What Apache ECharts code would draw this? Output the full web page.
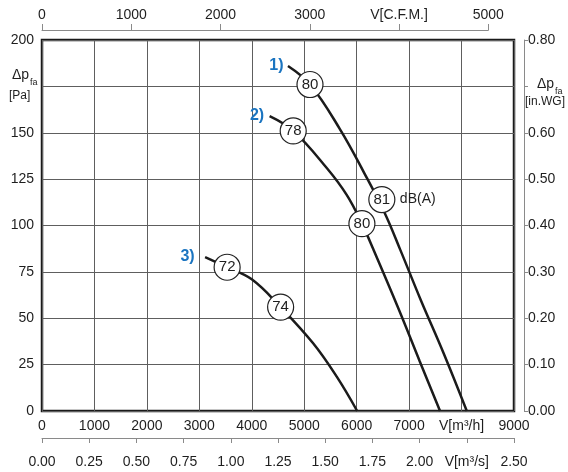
<!DOCTYPE html>
<html>
<head>
<meta charset="utf-8">
<script src="https://cdn.jsdelivr.net/npm/echarts@6/dist/echarts.min.js"></script>
<style>
html,body{margin:0;padding:0;background:#fff;}
#chart{width:568px;height:472px;}
</style>
</head>
<body>
<div id="chart"></div>
<script>
// ---- data ----
var flowTicksM3h = [0,1000,2000,3000,4000,5000,6000,7000,8000,9000];
var pressureTicksPa = [0,25,50,75,100,125,150,175,200];
var curve1Flow = [4690,5110,5680,6150,6530,6830,7220,7660,8100];
var curve1Pa   = [186,176,152,128,107,87,60,31,0];
var curve2Flow = [4340,4790,5430,5810,6100,6320,6800,7200,7590];
var curve2Pa   = [159,151,131,116.5,101,87,55,27,0];
var curve3Flow = [3110,3530,4000,4550,5170,5620,6010];
var curve3Pa   = [83,77.5,71,56,36.5,18.5,0];
var curveNames = ['1)','2)','3)'];
var soundFlow  = [5110,6480,4790,6100,3530,4550];
var soundPa    = [176,114,151,101,77.5,56];
var soundDb    = [80,81,78,80,72,74];
var soundUnit  = 'dB(A)';

function pairs(xs, ys){ return xs.map(function(x,i){ return [x, ys[i]]; }); }

var txt = '#1e1e1e';
var font = 'Liberation Sans, Arial, sans-serif';
var blue = '#1a74c0';
var chart = echarts.init(document.getElementById('chart'), null, {renderer:'canvas'});

var curves = [pairs(curve1Flow,curve1Pa), pairs(curve2Flow,curve2Pa), pairs(curve3Flow,curve3Pa)];
var labelDist = [4,5,10];

var series = [];
curves.forEach(function(c, i){
  series.push({
    type:'line', xAxisIndex:0, yAxisIndex:0, data:c, smooth:0.4, symbol:'none',
    lineStyle:{color:'#1b1b1b', width:2.5}, z:3, silent:true
  });
  series.push({
    type:'scatter', xAxisIndex:0, yAxisIndex:0, symbolSize:1, itemStyle:{color:'rgba(0,0,0,0)', opacity:1},
    data:[c[0]], z:4,
    label:{show:true, position:'left', distance:labelDist[i], formatter:curveNames[i],
      color:blue, fontWeight:'bold', fontSize:16, fontFamily:font}
  });
});
series.push({
  type:'scatter', xAxisIndex:0, yAxisIndex:0, symbol:'circle', symbolSize:26, z:5,
  itemStyle:{color:'#fff', borderColor:'#222', borderWidth:1.2, opacity:1},
  data: soundFlow.map(function(x,i){ return [x, soundPa[i], soundDb[i]]; }),
  label:{show:true, position:'inside', formatter:function(p){return p.value[2];},
    color:txt, fontSize:15, fontFamily:font}
});
series.push({
  type:'scatter', xAxisIndex:0, yAxisIndex:0, symbolSize:26, z:4,
  itemStyle:{color:'rgba(0,0,0,0)', opacity:1},
  data:[[soundFlow[1], soundPa[1]]],
  label:{show:true, position:'right', distance:5, formatter:soundUnit,
    color:txt, fontSize:14, fontFamily:font}
});
// dummy series for auxiliary grids
series.push({type:'line', xAxisIndex:1, yAxisIndex:2, data:[], silent:true});
series.push({type:'line', xAxisIndex:2, yAxisIndex:3, data:[], silent:true});

var axisGray = '#8a8a8a';

var option = {
  animation:false,
  textStyle:{fontFamily:font},
  grid:[
    {left:42, right:54, top:40, bottom:61, show:true, borderColor:'#1a1a1a', borderWidth:2.5, backgroundColor:'transparent'},
    {left:42, width:446.3, top:29, height:1},
    {left:42, right:54, top:437, height:1}
  ],
  xAxis:[
    {type:'value', gridIndex:0, min:0, max:9000, interval:1000, position:'bottom',
      axisLine:{show:false}, axisTick:{show:false},
      splitLine:{show:true, lineStyle:{color:'#5e5e5e', width:1}},
      axisLabel:{margin:8, fontSize:14, color:txt, fontFamily:font,
        formatter:function(v){ return v===8000 ? 'V[m³/h]' : String(v); }}},
    {type:'value', gridIndex:1, min:0, max:5000, interval:1000, position:'top',
      axisLine:{show:true, lineStyle:{color:axisGray, width:1}},
      axisTick:{show:true, length:6, lineStyle:{color:axisGray}},
      splitLine:{show:false},
      axisLabel:{margin:7, fontSize:14, color:txt, fontFamily:font,
        formatter:function(v){ return v===4000 ? 'V[C.F.M.]' : String(v); }}},
    {type:'value', gridIndex:2, min:0, max:2.5, interval:0.25, position:'bottom',
      axisLine:{show:true, lineStyle:{color:axisGray, width:1}},
      axisTick:{show:true, length:5, lineStyle:{color:axisGray}},
      splitLine:{show:false},
      axisLabel:{margin:17, fontSize:14, color:txt, fontFamily:font,
        formatter:function(v){ return Math.abs(v-2.25)<1e-9 ? 'V[m³/s]' : v.toFixed(2); }}}
  ],
  yAxis:[
    {type:'value', gridIndex:0, min:0, max:200, interval:25, position:'left',
      axisLine:{show:false}, axisTick:{show:false},
      splitLine:{show:true, lineStyle:{color:'#5e5e5e', width:1}},
      axisLabel:{margin:8, fontSize:14, color:txt, fontFamily:font,
        formatter:function(v){ return v===175 ? '' : String(v); }}},
    {type:'value', gridIndex:0, min:0, max:0.8, interval:0.1, position:'right', offset:10,
      axisLine:{show:true, lineStyle:{color:axisGray, width:1}},
      axisTick:{show:true, length:4, lineStyle:{color:axisGray}},
      splitLine:{show:false},
      axisLabel:{margin:4, fontSize:14, color:txt, fontFamily:font,
        formatter:function(v){ return Math.abs(v-0.7)<1e-9 ? '' : v.toFixed(2); }}},
    {type:'value', gridIndex:1, show:false, min:0, max:1},
    {type:'value', gridIndex:2, show:false, min:0, max:1}
  ],
  graphic:[
    {type:'text', left:12, top:68, style:{text:'Δp', font:'14px '+font, fill:txt}},
    {type:'text', left:30, top:78, style:{text:'fa', font:'9px '+font, fill:txt}},
    {type:'text', left:9, top:90, style:{text:'[Pa]', font:'12px '+font, fill:txt}},
    {type:'text', left:537, top:77, style:{text:'Δp', font:'14px '+font, fill:txt}},
    {type:'text', left:555, top:87, style:{text:'fa', font:'9px '+font, fill:txt}},
    {type:'text', left:525, top:96, style:{text:'[in.WG]', font:'12px '+font, fill:txt}}
  ],
  series:series
};
chart.setOption(option);
</script>
</body>
</html>
